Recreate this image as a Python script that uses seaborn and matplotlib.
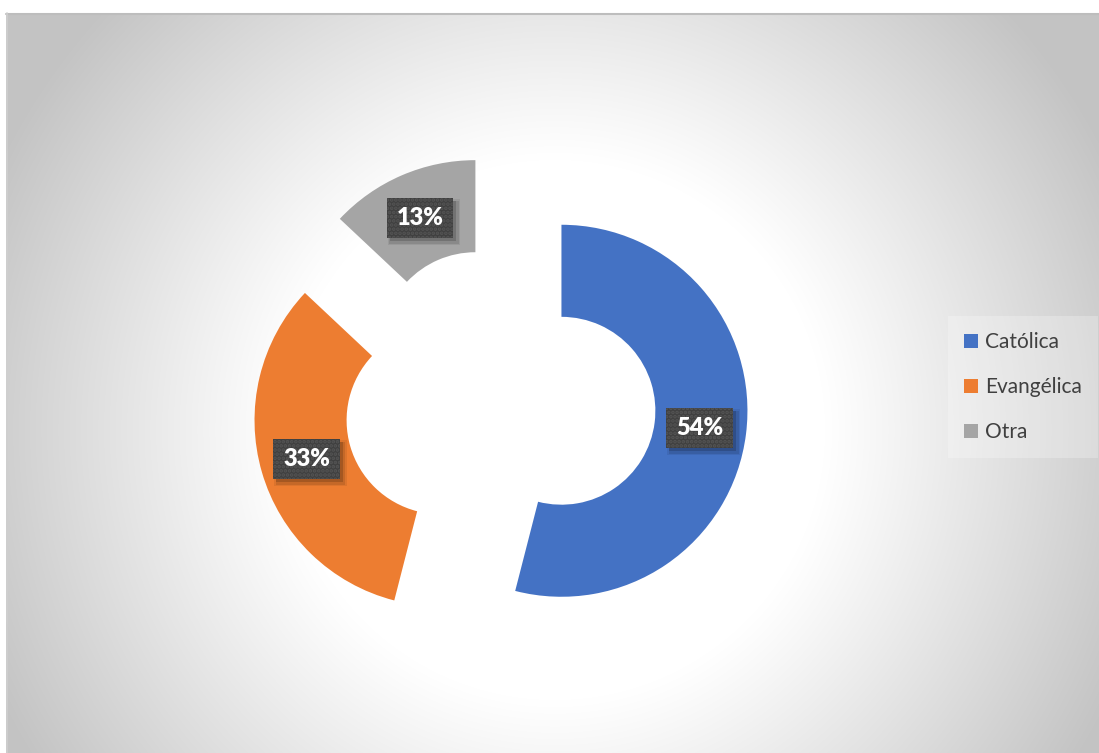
import numpy as np
import matplotlib
matplotlib.use("Agg")
import matplotlib.pyplot as plt
from matplotlib.lines import Line2D
from matplotlib.patches import Patch, Rectangle
import seaborn as sns

# Religious affiliation shares (percent)
categories = ["Católica", "Evangélica", "Otra"]
shares = [54, 33, 13]
colors = ["#4472C4", "#ED7D31", "#A5A5A5"]

sns.set_theme(style="white")
plt.rcParams["font.family"] = ["Lato", "DejaVu Sans"]
plt.rcParams["hatch.linewidth"] = 1.8

W, H = 1099, 753
fig = plt.figure(figsize=(W / 100, H / 100), dpi=100)
fig.patch.set_facecolor("white")

# Radial grey-to-white backdrop of the chart area
left_px, top_px = 6, 13
bg = fig.add_axes([left_px / W, 0, 1 - left_px / W, 1 - top_px / H])
xs = np.arange(left_px, W) + 0.5
ys = np.arange(top_px, H) + 0.5
X, Y = np.meshgrid(xs, ys)
dist = np.hypot(X - 555, Y - 430)
t = np.clip((dist - 270) / 350, 0, 1)
shade = 1 - (60 / 255) * t ** 1.05
bg.imshow(np.dstack([shade] * 3), extent=(0, 1, 0, 1), aspect="auto",
          interpolation="bilinear")
bg.set_axis_off()

fig.add_artist(Line2D([left_px / W, 1], [1 - (top_px + 0.5) / H] * 2,
                      color="#bdbdbd", lw=1.5, transform=fig.transFigure))
fig.add_artist(Line2D([(left_px + 0.5) / W] * 2, [0, 1 - top_px / H],
                      color="#cfcfcf", lw=1.2, transform=fig.transFigure))

# Exploded doughnut
ax = fig.add_axes([0, 0, 1, 1])
ax.patch.set_alpha(0)
cx, cy, R = 500, 403, 186
wedges, texts, autotexts = ax.pie(
    shares, colors=colors, startangle=90, counterclock=False,
    explode=[0.333] * len(shares), radius=1,
    wedgeprops=dict(width=0.495, linewidth=0),
    autopct="%1.0f%%", pctdistance=0.75,
)
ax.set_xlim(-cx / R, (W - cx) / R)
ax.set_ylim((cy - H) / R, cy / R)
ax.set_aspect("auto")
ax.set_axis_off()

for at in autotexts:
    at.set_color("white")
    at.set_fontsize(17)
    at.set_fontweight("heavy")
    at.set_zorder(6)

fig.canvas.draw()
renderer = fig.canvas.get_renderer()

# Dark dotted label boxes with a soft drop shadow, sized around each label
for at in autotexts:
    ext = at.get_window_extent(renderer)
    px, py = ax.transData.transform(at.get_position())
    bw, bh = ext.width + 20, 40
    x0, y0 = px - bw / 2, py - bh / 2
    for off, grow, a in [(4, 3, 0.07), (4, 1.5, 0.10), (3, 0, 0.16)]:
        fig.patches.append(Rectangle((x0 + off - grow, y0 - off - grow),
                                     bw + 2 * grow, bh + 2 * grow,
                                     transform=None, facecolor="black",
                                     edgecolor="none", alpha=a, zorder=3))
    fig.patches.append(Rectangle((x0, y0), bw, bh, transform=None,
                                 facecolor="#404040", edgecolor="#555555",
                                 linewidth=0, hatch="....", zorder=4))
    at.remove()
    fig.text(px / W, py / H, at.get_text(), ha="center", va="center",
             color="white", fontsize=17, fontweight="heavy", zorder=6)

# Legend
handles = [Patch(facecolor=c, edgecolor="none") for c in colors]
leg = fig.legend(handles, categories, loc="center left",
                 bbox_to_anchor=(948 / W, 1 - 387 / H), frameon=True,
                 fontsize=15, handlelength=0.68, handleheight=0.68,
                 handletextpad=0.35, labelspacing=1.2, borderpad=0.75,
                 borderaxespad=0, fancybox=False, framealpha=0.25,
                 facecolor="white", edgecolor="none")
for txt in leg.get_texts():
    txt.set_color("#404040")

fig.savefig("out.png", dpi=100)
